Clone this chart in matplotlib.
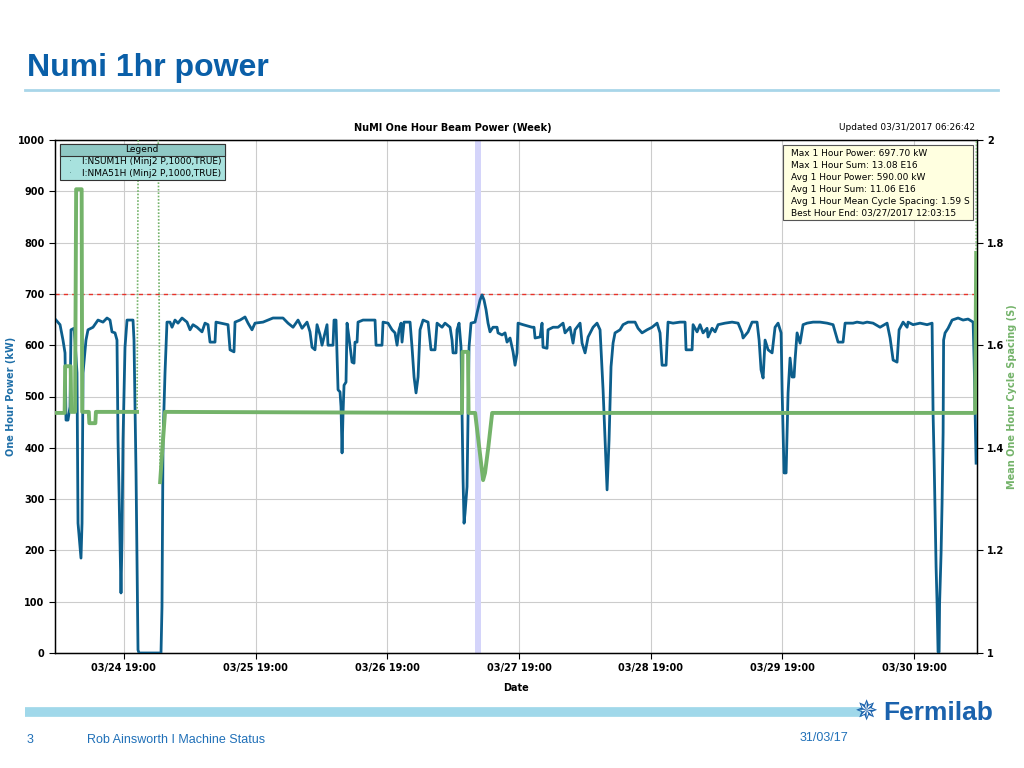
import matplotlib
matplotlib.use("Agg")
import matplotlib.pyplot as plt
import matplotlib.dates as mdates
from matplotlib.patches import Rectangle
import pandas as pd
import numpy as np

# NuMI one-hour beam power, hours after 2017-03-24 00:00
blue_h = [6.63, 7.36, 7.90, 8.27, 8.45, 8.81, 9.18, 9.36, 9.91, 10.09, 10.45, 10.64, 11.18, 11.37, 11.55,
          12.09, 12.46, 13.37, 14.28, 15.19, 15.92, 16.47, 16.83, 17.38, 17.74, 17.93, 18.29, 18.47, 18.65,
          18.84, 19.20, 19.57, 20.66, 20.84, 21.21, 21.57, 21.75, 25.76, 25.94, 26.13, 26.49, 26.85, 27.40,
          27.77, 28.31, 28.86, 29.59, 30.50, 31.05, 31.59, 32.32, 33.23, 33.78, 34.33, 34.69, 35.60, 35.78,
          37.97, 38.34, 39.06, 39.25, 40.16, 41.07, 41.62, 42.34, 42.89, 44.35, 46.17, 47.99, 48.90, 49.82,
          50.73, 51.46, 52.37, 52.91, 53.28, 53.82, 54.19, 54.74, 55.10, 56.01, 56.19, 57.10, 57.29, 57.65,
          57.83, 58.02, 58.38, 58.56, 58.75, 58.93, 59.11, 59.47, 59.66, 60.02, 60.57, 60.93, 61.11, 61.48,
          61.66, 62.57, 64.76, 64.94, 66.03, 66.22, 67.13, 67.86, 68.40, 68.77, 69.13, 69.50, 69.68, 70.04,
          71.14, 71.50, 71.87, 72.23, 72.60, 72.96, 73.51, 74.42, 74.96, 75.69, 76.06, 76.97, 77.51, 78.43,
          78.79, 78.97, 79.52, 79.70, 80.07, 80.43, 80.61, 80.80, 80.98, 81.16, 81.52, 81.71, 81.89, 82.25,
          82.98, 83.35, 83.89, 84.26, 84.62, 84.99, 85.35, 85.71, 86.26, 86.99, 87.17, 87.90, 88.45, 88.81,
          89.36, 89.91, 90.27, 90.64, 90.82, 91.73, 93.37, 93.73, 93.92, 94.83, 95.19, 95.37, 96.10, 96.28,
          97.20, 98.11, 99.02, 99.38, 100.29, 100.84, 101.20, 102.12, 102.48, 103.03, 103.58, 104.49, 105.21,
          105.76, 106.31, 106.67, 107.04, 107.40, 107.76, 108.13, 108.49, 109.40, 109.95, 110.86, 112.14,
          112.68, 113.41, 114.33, 115.24, 116.15, 116.69, 117.06, 117.79, 117.97, 118.15, 119.06, 120.34,
          121.25, 121.43, 122.53, 122.71, 123.44, 123.98, 124.53, 125.26, 125.44, 126.17, 126.72, 127.27,
          128.54, 129.82, 130.91, 131.64, 131.82, 132.73, 133.46, 134.37, 134.74, 135.10, 135.47, 135.83,
          136.38, 137.11, 137.65, 138.20, 138.75, 138.93, 139.29, 139.66, 140.02, 140.38, 140.75, 141.11,
          141.29, 141.66, 142.21, 142.75, 143.48, 144.58, 145.85, 147.13, 148.22, 149.13, 150.04, 150.41,
          151.86, 152.59, 153.69, 154.42, 155.51, 156.78, 158.06, 158.61, 159.16, 159.88, 160.25, 160.98,
          161.71, 161.89, 162.80, 164.07, 165.35, 166.26, 166.35, 166.44, 166.63, 166.99, 167.17, 167.35,
          167.54, 167.63, 167.90, 168.08, 168.27, 168.36, 168.63, 169.18, 169.91, 171.00, 171.91, 172.82,
          173.74, 173.92, 174.10, 174.28]
blue_kw = [649, 640, 610, 585, 454, 454, 480, 630, 633, 610, 546, 253, 185, 253, 546,
           610, 630, 635, 649, 645, 653, 649, 626, 624, 610, 415, 220, 117, 220,
           415, 596, 649, 649, 610, 351, 6, 0, 0, 90, 415, 546, 645, 645,
           635, 649, 643, 653, 645, 630, 640, 635, 626, 643, 640, 606, 606, 645,
           640, 591, 587, 645, 649, 655, 643, 630, 643, 645, 653, 653, 643, 635,
           649, 633, 645, 626, 596, 591, 640, 620, 600, 640, 600, 600, 649, 649,
           585, 513, 509, 480, 390, 468, 522, 528, 643, 614, 567, 565, 606, 606,
           645, 649, 649, 600, 600, 645, 643, 630, 624, 600, 630, 643, 606, 645,
           645, 596, 538, 507, 538, 630, 649, 645, 591, 591, 643, 635, 643, 635,
           610, 585, 585, 630, 643, 596, 468, 337, 253, 273, 324, 468, 596, 643,
           645, 663, 688, 698, 688, 669, 643, 626, 635, 635, 624, 620, 624, 606,
           614, 587, 561, 585, 643, 640, 635, 635, 614, 616, 643, 596, 594, 630,
           635, 635, 643, 624, 635, 604, 630, 643, 604, 585, 616, 635, 643,
           630, 513, 415, 318, 415, 558, 604, 624, 630, 640, 645, 645,
           633, 624, 630, 635, 643, 624, 561, 561, 606, 645, 643, 645,
           645, 591, 591, 640, 626, 640, 624, 633, 616, 633, 626, 640,
           643, 645, 643, 624, 614, 626, 645, 645, 610, 552, 536, 610,
           591, 585, 635, 643, 624, 513, 351, 351, 507, 575, 538, 538,
           571, 624, 604, 640, 643, 645, 645, 643, 640, 606, 606, 643,
           643, 645, 643, 645, 643, 635, 643, 614, 571, 567, 630, 645,
           635, 645, 640, 643, 640, 643, 557, 468, 376, 168, 97, 2,
           2, 97, 195, 292, 429, 610, 624, 633, 649, 653, 649, 651,
           645, 571, 468, 370]

# mean one-hour cycle spacing (s)
green_h = [6.63, 8.20, 8.30, 9.30, 9.40, 10.10, 10.30, 11.30, 11.40, 12.60, 12.70, 13.80, 13.90,
           21.40, 21.80, 25.00, 25.60, 26.00, 26.50, 80.60, 80.70, 81.70, 81.80, 83.00, 84.45,
           84.80, 85.40, 86.10, 174.10, 174.30, 174.45]
green_s = [1.468, 1.468, 1.559, 1.559, 1.470, 1.470, 1.904, 1.904, 1.470, 1.470, 1.448, 1.448, 1.470,
           1.470, 2.5, 2.5, 1.333, 1.396, 1.470, 1.468, 1.587, 1.587, 1.468, 1.468, 1.337,
           1.351, 1.401, 1.468, 1.468, 1.78, 2.5]

assert len(blue_h) == len(blue_kw) and len(green_h) == len(green_s)

t0 = pd.Timestamp("2017-03-24 00:00:00")
win_start = pd.Timestamp("2017-03-24 06:26:42")
win_end = pd.Timestamp("2017-03-31 06:26:42")
best_start = pd.Timestamp("2017-03-27 11:03:15")
best_end = pd.Timestamp("2017-03-27 12:03:15")
power_limit = 700

info_lines = ["Max 1 Hour Power: 697.70 kW",
              "Max 1 Hour Sum: 13.08 E16",
              "Avg 1 Hour Power: 590.00 kW",
              "Avg 1 Hour Sum: 11.06 E16",
              "Avg 1 Hour Mean Cycle Spacing: 1.59 S",
              "Best Hour End: 03/27/2017 12:03:15"]
legend_items = ["I:NSUM1H (Minj2 P,1000,TRUE)", "I:NMA51H (Minj2 P,1000,TRUE)"]

blue = "#0c5e8c"
green = "#74b36a"
ttl_blue = "#0a5fa8"

bt = t0 + pd.to_timedelta(blue_h, unit="h")
gt = t0 + pd.to_timedelta(green_h, unit="h")
gs = np.array(green_s)

fig = plt.figure(figsize=(10.24, 7.68), dpi=100)
W, H = 1024, 768


def fx(x):
    return x / W


def fy(y):
    return 1 - y / H


# slide header
fig.text(fx(27), fy(76), "Numi 1hr power", fontsize=23, fontweight="bold",
         color=ttl_blue, family="Liberation Sans", va="baseline")
fig.add_artist(plt.Line2D([fx(25), fx(998)], [fy(90), fy(90)], color="#a9d6e9", lw=2))

ax = fig.add_axes([fx(55), fy(653), 922 / W, 513 / H])
ax.plot(bt, blue_kw, color=blue, lw=2.0, zorder=3)
ax.axhline(power_limit, color="#e8332a", lw=1.0, ls=(0, (3, 3)), zorder=2)
ax.axvspan(best_start, best_end, color="#d4d4fa", zorder=1, lw=0)
ax.set_xlim(win_start, win_end)
ax.set_ylim(0, 1000)
ax.set_yticks(np.arange(0, 1001, 100))
ax.xaxis.set_major_locator(mdates.HourLocator(byhour=[19]))
ax.xaxis.set_major_formatter(mdates.DateFormatter("%m/%d %H:%M"))
ax.grid(True, color="#cccccc", lw=0.8)
ax.set_axisbelow(True)
ax.tick_params(labelsize=7, length=4, color="black")
for lbl in ax.get_xticklabels() + ax.get_yticklabels():
    lbl.set_fontweight("bold")
ax.set_ylabel("One Hour Power (kW)", color="#1f6fa8", fontsize=7, fontweight="bold")
ax.yaxis.set_label_coords(-0.042, 0.5)
ax.set_xlabel("Date", fontsize=7, fontweight="bold")
ax.xaxis.set_label_coords(0.5, -0.058)
for s in ax.spines.values():
    s.set_color("black")
    s.set_linewidth(1.0)

ax2 = ax.twinx()
# off-scale excursions are sparse samples: draw them dotted and thin
off = gs > 2
ax2.plot(gt, np.ma.masked_where(off, gs), color=green, lw=2.8, zorder=3)
for i in np.where(off)[0]:
    lo, hi = max(i - 1, 0), min(i + 2, len(gs))
    ax2.plot(gt[lo:hi], gs[lo:hi], color=green, lw=1.2, ls=(0, (1, 1)), zorder=3)
ax2.set_ylim(1, 2)
ax2.set_yticks([1, 1.2, 1.4, 1.6, 1.8, 2])
ax2.set_yticklabels(["1", "1.2", "1.4", "1.6", "1.8", "2"])
ax2.tick_params(labelsize=7, length=4)
for lbl in ax2.get_yticklabels():
    lbl.set_fontweight("bold")
ax2.set_ylabel("Mean One Hour Cycle Spacing (S)", color=green, fontsize=7, fontweight="bold")
ax2.yaxis.set_label_coords(1.033, 0.5)

# chart titles
fig.text(fx(453), fy(128), "NuMI One Hour Beam Power (Week)", fontsize=7,
         fontweight="bold", ha="center", va="center")
fig.text(fx(975), fy(127), "Updated 03/31/2017 06:26:42", fontsize=6.5,
         ha="right", va="center")

# legend box
fig.add_artist(Rectangle((fx(60), fy(180)), 165 / W, 36 / H, facecolor="#a8e2de",
                         edgecolor="#333333", lw=0.8))
fig.add_artist(Rectangle((fx(60), fy(156)), 165 / W, 12 / H, facecolor="#8fc8c4",
                         edgecolor="#333333", lw=0.8))
fig.text(fx(142), fy(150), "Legend", fontsize=6.5, ha="center", va="center")
for i, item in enumerate(legend_items):
    yy = 162 + i * 12
    fig.text(fx(70), fy(yy), "\u00b7", fontsize=6.5, ha="center", va="center", color="#4a7f7c")
    fig.text(fx(82), fy(yy), item, fontsize=6.5, va="center")

# info box
fig.add_artist(Rectangle((fx(783), fy(220)), 190 / W, 75 / H, facecolor="#ffffe0",
                         edgecolor="#555555", lw=0.8))
for i, line in enumerate(info_lines):
    fig.text(fx(791), fy(153 + i * 12), line, fontsize=6.5, va="center")

# footer
fig.add_artist(plt.Line2D([fx(25), fx(862)], [fy(712), fy(712)], color="#a0d8ea", lw=7,
                          solid_capstyle="butt"))
fig.text(fx(883), fy(713), "Fermilab", fontsize=19, fontweight="bold", color="#1a62ad",
         family="Liberation Sans", va="center")
fig.text(fx(866), fy(713), "\u2735", fontsize=20, color="#1a62ad", ha="center", va="center",
         family="DejaVu Sans")
fig.text(fx(27), fy(740), "3", fontsize=9, color="#2070b8", family="Liberation Sans", va="center")
fig.text(fx(87), fy(740), "Rob Ainsworth I Machine Status", fontsize=9, color="#2070b8",
         family="Liberation Sans", va="center")
fig.text(fx(800), fy(738), "31/03/17", fontsize=9, color="#2070b8",
         family="Liberation Sans", va="center")

fig.savefig("out.png", dpi=100)
